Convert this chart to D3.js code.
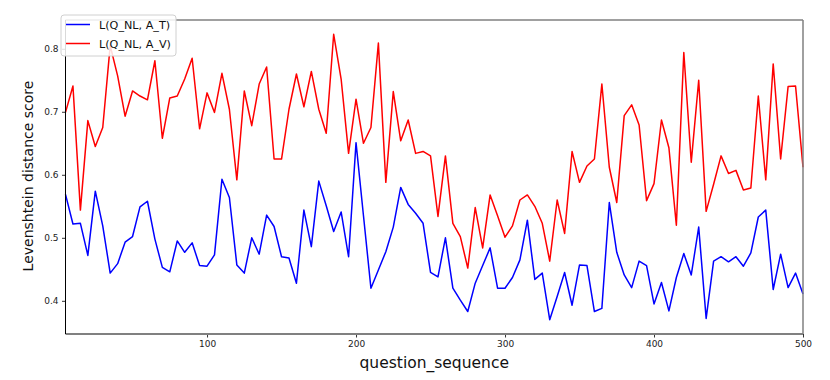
<!DOCTYPE html>
<html>
<head>
<meta charset="utf-8">
<script src="https://cdn.jsdelivr.net/npm/d3@7"></script>
<style>
  html, body { margin: 0; padding: 0; background: #fff; }
  svg { display: block; font-family: "DejaVu Sans", sans-serif; }
</style>
</head>
<body>
<div id="chart"></div>
<script>
// question_sequence runs 5, 10, ... 500
const questionSeq = d3.range(1, 101).map((i) => i * 5);

// L(Q_NL, A_T)
const scoresAT = [
  0.569, 0.522, 0.523, 0.472, 0.574, 0.519, 0.444, 0.459, 0.493, 0.502,
  0.549, 0.558, 0.498, 0.453, 0.446, 0.495, 0.477, 0.492, 0.456, 0.455,
  0.473, 0.593, 0.564, 0.457, 0.444, 0.500, 0.474, 0.536, 0.518, 0.470,
  0.468, 0.428, 0.544, 0.486, 0.590, 0.551, 0.510, 0.541, 0.470, 0.651,
  0.535, 0.420, 0.449, 0.478, 0.517, 0.580, 0.553, 0.539, 0.523, 0.445,
  0.438, 0.500, 0.420, 0.401, 0.383, 0.428, 0.456, 0.484, 0.420, 0.420,
  0.437, 0.465, 0.528, 0.434, 0.444, 0.370, 0.407, 0.445, 0.393, 0.457,
  0.456, 0.383, 0.388, 0.556, 0.477, 0.441, 0.421, 0.463, 0.456, 0.395,
  0.429, 0.384, 0.437, 0.475, 0.441, 0.517, 0.372, 0.463, 0.470, 0.462,
  0.470, 0.455, 0.476, 0.533, 0.544, 0.418, 0.474, 0.421, 0.444, 0.411,
];

// L(Q_NL, A_V)
const scoresAV = [
  0.699, 0.741, 0.544, 0.686, 0.645, 0.675, 0.805, 0.757, 0.693, 0.733,
  0.725, 0.719, 0.781, 0.658, 0.722, 0.725, 0.752, 0.785, 0.673, 0.730,
  0.699, 0.761, 0.704, 0.592, 0.733, 0.678, 0.744, 0.771, 0.625, 0.625,
  0.704, 0.760, 0.708, 0.764, 0.704, 0.666, 0.823, 0.752, 0.634, 0.720,
  0.650, 0.675, 0.809, 0.588, 0.732, 0.654, 0.687, 0.634, 0.637, 0.630,
  0.534, 0.630, 0.523, 0.502, 0.452, 0.548, 0.484, 0.568, 0.535, 0.501,
  0.519, 0.560, 0.568, 0.550, 0.523, 0.463, 0.560, 0.507, 0.637, 0.588,
  0.614, 0.625, 0.744, 0.612, 0.556, 0.694, 0.711, 0.679, 0.559, 0.586,
  0.687, 0.643, 0.520, 0.794, 0.620, 0.750, 0.542, 0.585, 0.630, 0.602,
  0.607, 0.576, 0.579, 0.725, 0.592, 0.776, 0.625, 0.740, 0.741, 0.612,
];

const seriesNames = ["L(Q_NL, A_T)", "L(Q_NL, A_V)"];
const seriesColors = ["#0000ff", "#ff0000"];
const xTicks = [100, 200, 300, 400, 500];
const yTicks = [0.4, 0.5, 0.6, 0.7, 0.8];

const width = 830, height = 380;
const margin = { top: 20, right: 27, bottom: 46, left: 65.5 };

const svg = d3.select("#chart").append("svg")
  .attr("width", width)
  .attr("height", height);

// y limits padded 5% like matplotlib's autoscale
const allVals = scoresAT.concat(scoresAV);
const yMin = d3.min(allVals), yMax = d3.max(allVals);
const pad = (yMax - yMin) * 0.05;

const x = d3.scaleLinear()
  .domain([5, 500])
  .range([margin.left, width - margin.right]);

const y = d3.scaleLinear()
  .domain([yMin - pad, yMax + pad])
  .range([height - margin.bottom, margin.top]);

const line = d3.line()
  .x((d) => x(d[0]))
  .y((d) => y(d[1]));

[scoresAT, scoresAV].forEach((vals, k) => {
  svg.append("path")
    .datum(questionSeq.map((q, i) => [q, vals[i]]))
    .attr("fill", "none")
    .attr("stroke", seriesColors[k])
    .attr("stroke-width", 1.5)
    .attr("stroke-linejoin", "round")
    .attr("d", line);
});

// axes
const xAxis = svg.append("g")
  .attr("transform", `translate(0,${height - margin.bottom})`)
  .call(d3.axisBottom(x).tickValues(xTicks).tickSize(3.5).tickPadding(3));
xAxis.select(".domain").remove();
xAxis.selectAll("text").attr("font-size", 9).attr("font-family", "DejaVu Sans").attr("fill", "#222");
xAxis.selectAll("line").attr("stroke", "#333");

const yAxis = svg.append("g")
  .attr("transform", `translate(${margin.left},0)`)
  .call(d3.axisLeft(y).tickValues(yTicks).tickFormat(d3.format(".1f")).tickSize(3.5).tickPadding(3.5));
yAxis.select(".domain").remove();
yAxis.selectAll("text").attr("font-size", 9).attr("font-family", "DejaVu Sans").attr("fill", "#222");
yAxis.selectAll("line").attr("stroke", "#333");

// spines
const x0 = margin.left, x1 = width - margin.right;
const y0 = margin.top, y1 = height - margin.bottom;
svg.append("line").attr("x1", x0).attr("x2", x1).attr("y1", y0).attr("y2", y0)
  .attr("stroke", "#808080").attr("stroke-width", 1.3);
svg.append("line").attr("x1", x1).attr("x2", x1).attr("y1", y0).attr("y2", y1)
  .attr("stroke", "#808080").attr("stroke-width", 1.5);
svg.append("line").attr("x1", x0).attr("x2", x1).attr("y1", y1).attr("y2", y1)
  .attr("stroke", "#808080").attr("stroke-width", 2);
svg.append("line").attr("x1", x0).attr("x2", x0).attr("y1", y0).attr("y2", y1)
  .attr("stroke", "#000").attr("stroke-width", 1);

// labels
svg.append("text")
  .attr("x", (x0 + x1) / 2)
  .attr("y", 368)
  .attr("text-anchor", "middle")
  .attr("font-size", 15.5)
  .attr("fill", "#111")
  .text("question_sequence");

svg.append("text")
  .attr("transform", "translate(33,176) rotate(-90)")
  .attr("text-anchor", "middle")
  .attr("font-size", 14)
  .attr("fill", "#111")
  .text("Levenshtein distance score");

// legend
const legend = svg.append("g").attr("transform", "translate(61,15)");
legend.append("rect")
  .attr("width", 115)
  .attr("height", 41)
  .attr("rx", 3)
  .attr("fill", "#fff")
  .attr("fill-opacity", 0.85)
  .attr("stroke", "#d0d0d0");
seriesNames.forEach((name, k) => {
  const ly = 9.5 + k * 19;
  legend.append("line")
    .attr("x1", 5).attr("x2", 29)
    .attr("y1", ly).attr("y2", ly)
    .attr("stroke", seriesColors[k])
    .attr("stroke-width", 1.5);
  legend.append("text")
    .attr("x", 38)
    .attr("y", ly + 4)
    .attr("font-size", 11.2)
    .attr("fill", "#111")
    .text(name);
});
</script>
</body>
</html>
